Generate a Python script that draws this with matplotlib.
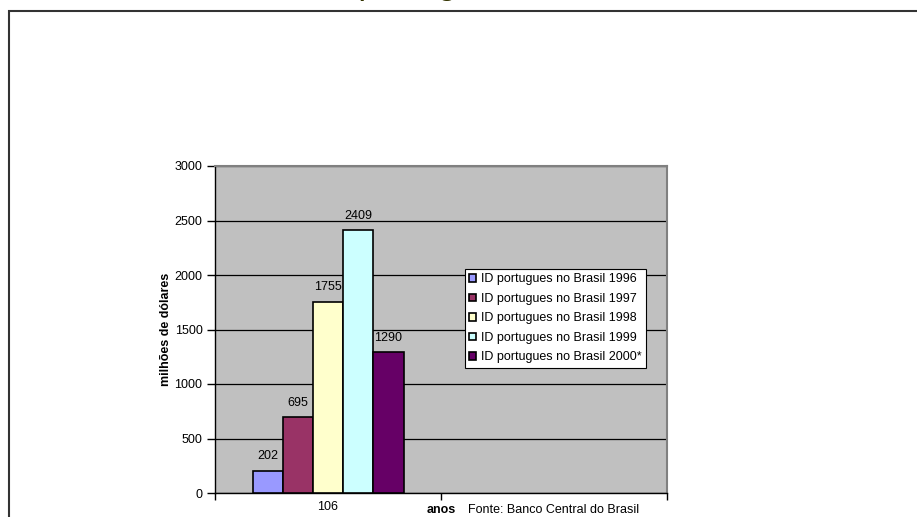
import matplotlib
matplotlib.use("Agg")
import matplotlib.pyplot as plt
from matplotlib.patches import Rectangle
import numpy as np

plt.rcParams['font.family'] = ['Liberation Sans', 'DejaVu Sans']

categories = ["106", ""]
series_names = ["ID portugues no Brasil 1996", "ID portugues no Brasil 1997",
                "ID portugues no Brasil 1998", "ID portugues no Brasil 1999",
                "ID portugues no Brasil 2000*"]
series_values = [202, 695, 1755, 2409, 1290]
series_colors = ["#9999FF", "#993366", "#FFFFCC", "#CCFFFF", "#660066"]
yticks = [0, 500, 1000, 1500, 2000, 2500, 3000]

W, H = 917, 517
FS = 9
fig = plt.figure(figsize=(W / 100, H / 100), dpi=100)

# outer chart border
fig.add_artist(Rectangle((9 / W, -0.05), 1.2, (H - 11) / H + 0.05, transform=fig.transFigure,
                         fill=False, edgecolor="#333333", linewidth=1.5, zorder=0))
# title (mostly cut off above the image)
fig.text(314 / W, 1 + 6 / H, "ID português no Brasil", ha="left", va="baseline",
         fontsize=25, color="#333300")

ax = fig.add_axes([215 / W, (H - 493) / H, 452 / W, 327 / H])
ax.set_facecolor("#C0C0C0")
ax.set_xlim(-0.5, 1.5)
ax.set_ylim(0, 3000)

bw = 30.2 / 226
for i, (name, v, c) in enumerate(zip(series_names, series_values, series_colors)):
    x = 0 + (i - 2) * bw
    ax.bar([x], [v], width=bw, color=c, edgecolor="black", linewidth=1.2, label=name, zorder=3)
    ax.text(x, v + 80, str(v), ha="center", va="bottom", fontsize=FS, zorder=4)

ax.set_yticks(yticks)
ax.set_yticklabels([str(t) for t in yticks], fontsize=FS)
ax.yaxis.grid(True, color="black", linewidth=0.9, zorder=1)
ax.set_axisbelow(True)

ax.set_xticks([-0.5, 0.5, 1.5])
ax.set_xticklabels(["", "", ""])
ax.set_xticks([0, 1], minor=True)
ax.set_xticklabels(categories, minor=True, fontsize=FS)
ax.tick_params(axis="x", which="minor", length=0, pad=6)
ax.tick_params(axis="x", which="major", length=5, width=1, direction="out")
ax.tick_params(axis="y", length=6, width=1, direction="out", pad=3)

for s in ["top", "right"]:
    ax.spines[s].set_color("#808080")
    ax.spines[s].set_linewidth(1.5)
for s in ["left", "bottom"]:
    ax.spines[s].set_color("black")
    ax.spines[s].set_linewidth(1)

ax.set_ylabel("milhões de dólares", fontsize=FS, fontweight="bold", labelpad=2)

fig.text(441 / W, (H - 513) / H, "anos", ha="center", va="baseline",
         fontsize=FS, fontweight="bold")
fig.text(468 / W, (H - 513) / H, "Fonte: Banco Central do Brasil", ha="left",
         va="baseline", fontsize=FS)

leg = ax.legend(loc="upper left", bbox_to_anchor=((465 - 215) / 452, (493 - 269) / 327),
                fontsize=FS, frameon=True, fancybox=False, framealpha=1,
                edgecolor="black", borderpad=0.35, labelspacing=0.6,
                handlelength=0.55, handleheight=0.55, handletextpad=0.35,
                borderaxespad=0)
leg.get_frame().set_linewidth(0.8)

fig.savefig("out.png", dpi=100)
